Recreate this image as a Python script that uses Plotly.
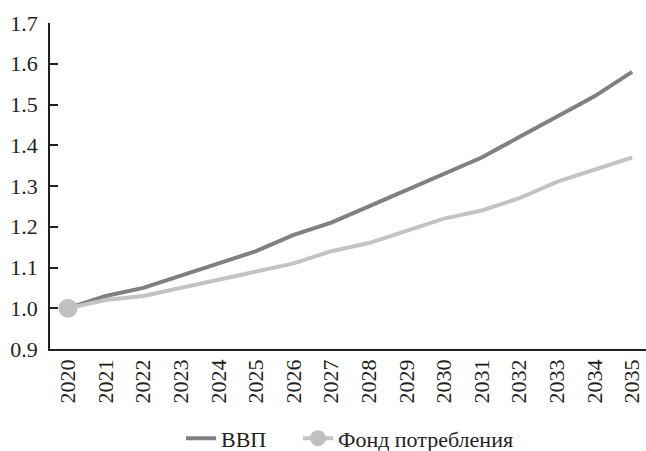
import plotly.graph_objects as go

years = [str(y) for y in range(2020, 2036)]
gdp = [1.00, 1.03, 1.05, 1.08, 1.11, 1.14, 1.18, 1.21, 1.25, 1.29, 1.33, 1.37, 1.42, 1.47, 1.52, 1.58]
cons = [1.00, 1.02, 1.03, 1.05, 1.07, 1.09, 1.11, 1.14, 1.16, 1.19, 1.22, 1.24, 1.27, 1.31, 1.34, 1.37]
y_ticks = [0.9, 1.0, 1.1, 1.2, 1.3, 1.4, 1.5, 1.6, 1.7]

font = "Liberation Serif"
c_gdp = "#808080"
c_cons = "#c3c3c6"

fig = go.Figure()
fig.add_trace(go.Scatter(x=years, y=gdp, mode="lines", name="ВВП",
                         line=dict(color=c_gdp, width=4), legend="legend"))
fig.add_trace(go.Scatter(x=years, y=cons, mode="lines", name="Фонд потребления",
                         line=dict(color=c_cons, width=4), showlegend=False))
fig.add_trace(go.Scatter(x=years[:1], y=cons[:1], mode="lines+markers", name="Фонд потребления",
                         line=dict(color=c_cons, width=4), legend="legend2",
                         marker=dict(size=19, color="#c0c0c2", line=dict(width=0))))

leg_common = dict(orientation="h", xref="container", yref="container",
                  xanchor="left", y=0.028, yanchor="middle",
                  font=dict(size=22), itemwidth=30, bgcolor="rgba(0,0,0,0)")

fig.update_layout(
    width=646, height=451,
    margin=dict(l=50, r=0, t=23, b=102),
    paper_bgcolor="white", plot_bgcolor="white",
    font=dict(family=font, size=22, color="#231f20"),
    showlegend=True,
    legend=dict(x=181 / 646, **leg_common),
    legend2=dict(x=298 / 646, **leg_common),
    xaxis=dict(type="category", range=[-0.48, 15.37], showgrid=False, zeroline=False,
               showline=True, linecolor="#231f20", linewidth=1.5, automargin=False,
               ticks="", tickangle=-90, tickfont=dict(size=22)),
    yaxis=dict(range=[0.9, 1.7], tickvals=y_ticks, ticktext=[f"{v:.1f}" for v in y_ticks],
               showgrid=False, zeroline=False, showline=True, linecolor="#231f20", linewidth=1.5,
               automargin=False,
               ticks="inside", ticklen=8, tickcolor="#231f20", tickwidth=1.5,
               ticklabelstandoff=6, tickfont=dict(size=22)),
)
fig.write_html("out.html", config={"displayModeBar": False},
               post_script="document.body.style.margin='0';document.body.style.overflow='hidden';")
